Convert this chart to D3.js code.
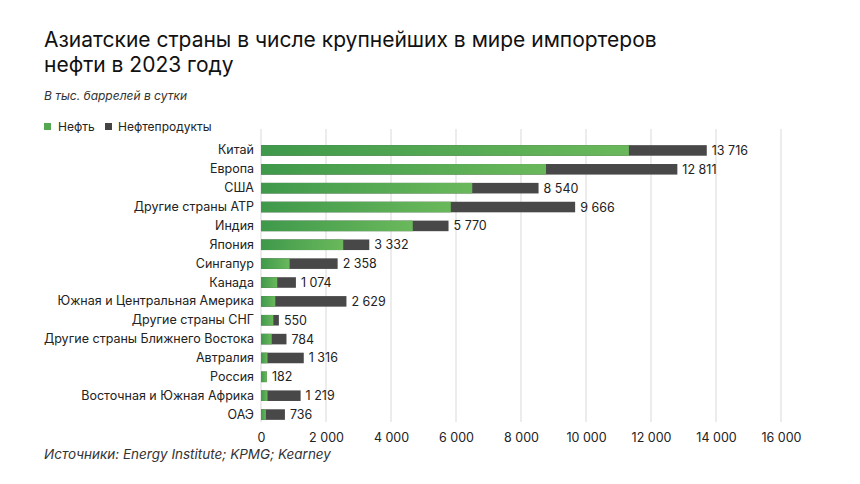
<!DOCTYPE html>
<html><head><meta charset="utf-8">
<script src="https://cdn.jsdelivr.net/npm/d3@7"></script>
<style>body{margin:0;background:#fff}svg{display:block}text{font-family:Inter,"Noto Sans",sans-serif}</style>
</head><body><svg id="c" width="860" height="484"></svg>
<script>
const categories = ["Китай","Европа","США","Другие страны АТР","Индия","Япония","Сингапур","Канада","Южная и Центральная Америка","Другие страны СНГ","Другие страны Ближнего Востока","Автралия","Россия","Восточная и Южная Африка","ОАЭ"];
const crude = [11320,8770,6500,5840,4670,2530,880,500,440,380,330,200,182,200,150];
const totals = [13716,12811,8540,9666,5770,3332,2358,1074,2629,550,784,1316,182,1219,736];
const xTicks = [0,2000,4000,6000,8000,10000,12000,14000,16000];
const seriesNames = ["Нефть","Нефтепродукты"];

const svg = d3.select("#c");
const fmtSp = v => d3.format(",")(v).replace(/,/g, " ");

const defs = svg.append("defs");
const g = defs.append("linearGradient").attr("id","gr").attr("x1","0").attr("x2","1").attr("y1","0").attr("y2","0");
g.append("stop").attr("offset","0").attr("stop-color","#3f994b");
g.append("stop").attr("offset","1").attr("stop-color","#6ab85b");

const x = d3.scaleLinear().domain([0,16000]).range([261,781]);
const y = d3.scaleBand().domain(categories).range([141,424]).paddingInner(0.44).paddingOuter(0.22);

// title
svg.append("text").attr("x",44).attr("y",47).attr("font-size",21).attr("fill","#111").text("Азиатские страны в числе крупнейших в мире импортеров");
svg.append("text").attr("x",44).attr("y",72).attr("font-size",21).attr("fill","#111").text("нефти в 2023 году");
svg.append("text").attr("x",44).attr("y",100).attr("font-size",12).attr("font-style","italic").attr("fill","#333").text("В тыс. баррелей в сутки");

// legend
const leg = svg.append("g");
leg.append("rect").attr("x",44).attr("y",123).attr("width",7).attr("height",7).attr("fill","#55a852");
leg.append("text").attr("x",58).attr("y",130.5).attr("font-size",12).attr("fill","#222").text(seriesNames[0]);
leg.append("rect").attr("x",105).attr("y",123).attr("width",7).attr("height",7).attr("fill","#444");
leg.append("text").attr("x",118).attr("y",130.5).attr("font-size",12).attr("fill","#222").text(seriesNames[1]);

// grid
svg.append("g").selectAll("line").data(xTicks).join("line")
  .attr("x1",d=>x(d)).attr("x2",d=>x(d)).attr("y1",129).attr("y2",422)
  .attr("stroke","#d9d9d9").attr("stroke-width",1);

// x axis labels
const ax = svg.append("g").attr("transform","translate(0,422)")
  .call(d3.axisBottom(x).tickValues(xTicks).tickSize(0).tickPadding(11).tickFormat(fmtSp));
ax.select(".domain").remove();
ax.selectAll("text").attr("font-size",12.5).attr("fill","#222").attr("font-family","Inter,sans-serif");

// category labels
const ay = svg.append("g").attr("transform","translate(254,0)")
  .call(d3.axisLeft(y).tickSize(0).tickPadding(0));
ay.select(".domain").remove();
ay.selectAll("text").attr("font-size",12.5).attr("fill","#222").attr("font-family","Inter,sans-serif");

const bars = svg.append("g");
bars.selectAll("rect.p").data(categories).join("rect").attr("class","p")
  .attr("x",x(0)).attr("y",d=>y(d)).attr("height",y.bandwidth())
  .attr("width",(d,i)=>x(totals[i])-x(0)).attr("fill","#484848");
bars.selectAll("rect.c").data(categories).join("rect").attr("class","c")
  .attr("x",x(0)).attr("y",d=>y(d)).attr("height",y.bandwidth())
  .attr("width",(d,i)=>x(crude[i])-x(0)).attr("fill","url(#gr)");
bars.selectAll("text.v").data(categories).join("text").attr("class","v")
  .attr("x",(d,i)=>x(totals[i])+5).attr("y",d=>y(d)+y.bandwidth()/2).attr("dy","0.36em")
  .attr("font-size",12.5).attr("fill","#222").text((d,i)=>fmtSp(totals[i]));

svg.append("text").attr("x",44).attr("y",459).attr("font-size",13.5).attr("font-style","italic").attr("fill","#333").text("Источники: Energy Institute; KPMG; Kearney");
</script></body></html>
